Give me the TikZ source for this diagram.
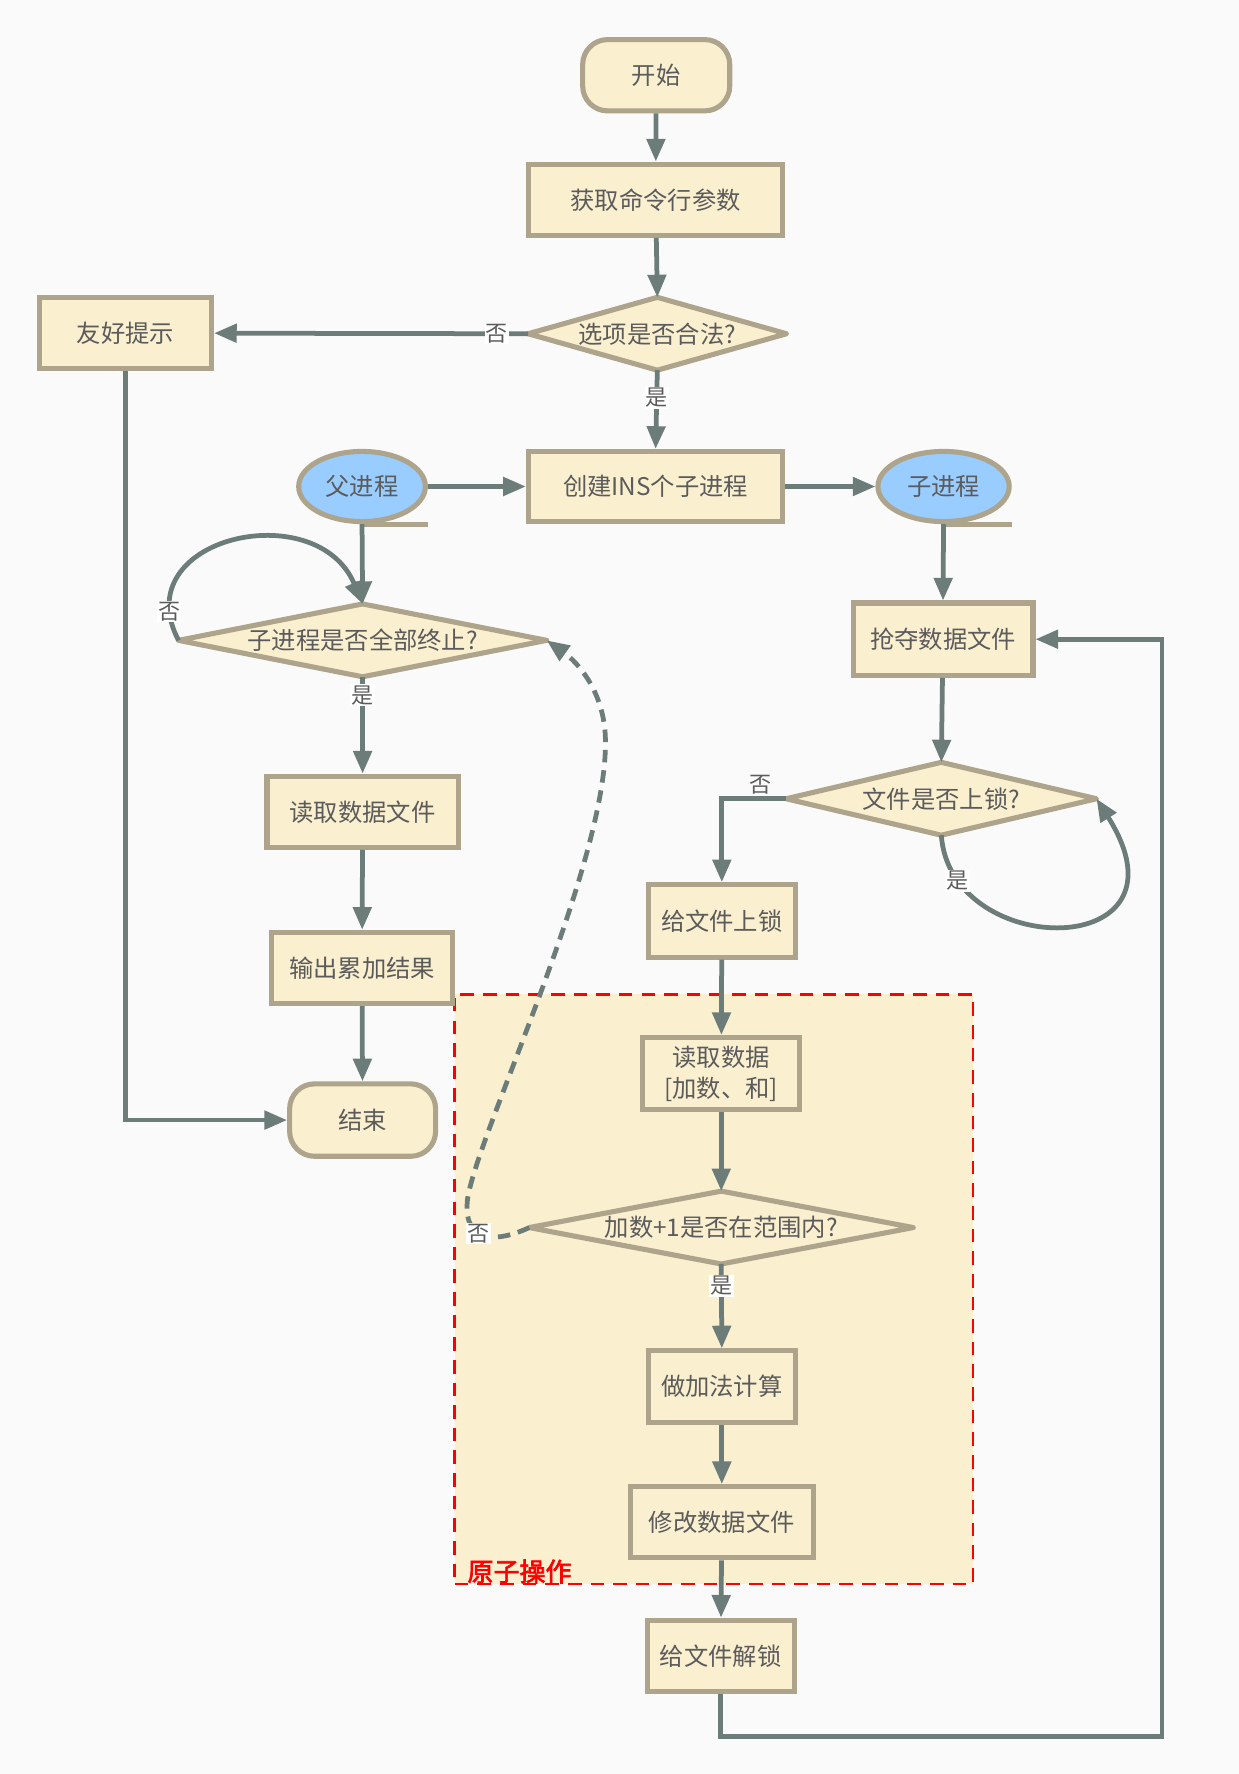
\documentclass[tikz,border=0pt]{standalone}
\usepackage{fontspec}
\setmainfont[AutoFakeBold=2.5]{Noto Sans CJK SC}
\usetikzlibrary{arrows.meta,shapes.geometric}
\definecolor{nodef}{HTML}{FAEFCF}
\definecolor{nodeb}{HTML}{ADA48B}
\definecolor{arr}{HTML}{6B7C79}
\definecolor{txt}{HTML}{5B5B5B}
\definecolor{procblue}{HTML}{99CCFF}
\definecolor{pagebg}{HTML}{FAFAFA}
\definecolor{atomred}{HTML}{FF0000}
\pgfdeclarelayer{page}
\pgfdeclarelayer{back}
\pgfdeclarelayer{mid}
\pgfsetlayers{page,back,mid,main}
\newcommand\drawdia[1]{\begin{pgfonlayer}{mid}\draw[diashape] (#1.north)--(#1.east)--(#1.south)--(#1.west)--cycle;\end{pgfonlayer}}
\begin{document}
\begin{tikzpicture}[x=1pt,y=-1pt,
  box/.style={draw=nodeb, fill=nodef, line width=4.5pt, text=txt, font=\fontsize{21.5}{27}\selectfont, inner sep=0pt, align=center},
  term/.style={box, rounded corners=22pt},
  proc/.style={box, ellipse, fill=procblue},
  dia/.style={rectangle, inner sep=0pt, text=txt, font=\fontsize{21.5}{27}\selectfont},
  diashape/.style={draw=nodeb, fill=nodef, line width=4.5pt, line join=round},
  conn/.style={draw=arr, line width=4.2pt, -{Triangle[length=20pt,width=16pt]}},
  dconn/.style={conn, dash pattern=on 11pt off 7pt},
  lab/.style={fill=white, inner sep=1pt, text=txt, font=\fontsize{19.5}{23}\selectfont},
  atombox/.style={draw=atomred, fill=nodef, line width=2.5pt, dash pattern=on 12pt off 8pt, inner sep=0pt},
  atomlab/.style={text=atomred, font=\fontsize{23}{27}\selectfont\bfseries, inner sep=0pt}
]
\begin{pgfonlayer}{page}
\fill[pagebg] (0,0) rectangle (1095,1568);
\end{pgfonlayer}
\useasboundingbox (0,0) rectangle (1095,1568);

% atomic region
\begin{pgfonlayer}{back}
\node[atombox, minimum width=458pt, minimum height=521pt] (atom) at (631,1139.5) {};
\end{pgfonlayer}
\node[atomlab, anchor=west] (atomlab) at (413,1389) {原子操作};

% nodes
\node[term, minimum width=130pt, minimum height=63pt] (start) at (580,66.5) {开始};
\node[box, minimum width=225pt, minimum height=63pt] (args) at (579.5,176.5) {获取命令行参数};
\node[dia, minimum width=228pt, minimum height=64pt] (d1) at (581,295) {选项是否合法?};
\node[box, minimum width=152pt, minimum height=63pt] (tip) at (111,294.5) {友好提示};
\node[box, minimum width=225pt, minimum height=62pt] (create) at (579.5,430) {创建INS个子进程};
\node[proc, minimum width=112pt, minimum height=62pt] (par) at (320,430) {父进程};
\node[proc, minimum width=116pt, minimum height=62pt] (chi) at (834,430) {子进程};
\node[dia, minimum width=325pt, minimum height=64pt] (d2) at (320.5,566) {子进程是否全部终止?};
\node[box, minimum width=169pt, minimum height=63pt] (readf) at (320.5,717.5) {读取数据文件};
\node[box, minimum width=160pt, minimum height=63pt] (outp) at (320,855.5) {输出累加结果};
\node[term, minimum width=129pt, minimum height=64pt] (stop) at (320.5,990) {结束};
\node[box, minimum width=159pt, minimum height=64pt] (grab) at (833.5,565) {抢夺数据文件};
\node[dia, minimum width=274pt, minimum height=64pt] (d3) at (832,706) {文件是否上锁?};
\node[box, minimum width=130pt, minimum height=64pt] (lock) at (638,814) {给文件上锁};
\node[box, minimum width=139pt, minimum height=64pt] (readd) at (637.5,949) {读取数据\\{}[加数、和]};
\node[dia, minimum width=339pt, minimum height=64pt] (d4) at (637.5,1085) {加数+1是否在范围内?};
\node[box, minimum width=130pt, minimum height=63pt] (add) at (638,1225.5) {做加法计算};
\node[box, minimum width=162pt, minimum height=63pt] (modf) at (638,1345.5) {修改数据文件};
\node[box, minimum width=130pt, minimum height=63pt] (unlock) at (637,1463.5) {给文件解锁};

\drawdia{d1}\drawdia{d2}\drawdia{d3}\drawdia{d4}

% storage tails
\draw[draw=nodeb, line width=4.5pt] (par.south) -- (par.south -| par.east);
\draw[draw=nodeb, line width=4.5pt] (chi.south) -- (chi.south -| chi.east);

% connectors
\draw[conn] (start) -- (args);
\draw[conn] (args) -- (d1.north);
\draw[conn] (d1.west) -- node[lab, pos=0.1] {否} (tip.east);
\draw[conn] (d1.south) -- node[lab, pos=0.35] {是} (create.north);
\draw[conn] (par.east) -- (create.west);
\draw[conn] (create.east) -- (chi.west);
\draw[conn] (par.south) -- (d2.north);
\draw[conn] (d2.west) .. controls (110,475) and (280,437) .. node[lab, pos=0.1] {否} (d2.north);
\draw[conn] (d2.south) -- node[lab, pos=0.19] {是} (readf.north);
\draw[conn] (readf) -- (outp);
\draw[conn] (outp) -- (stop);
\draw[conn] (tip.south) |- (stop.west);
\draw[conn] (chi.south) -- (grab.north);
\draw[conn] (grab) -- (d3.north);
\draw[conn] (d3.west) -| node[lab, pos=0.2, above=1pt, fill=none] {否} (lock.north);
\draw[conn] (d3.south) .. controls (840,850) and (1060,850) .. node[lab, pos=0.14] {是} (d3.east);
\draw[conn] (lock) -- (readd);
\draw[conn] (readd) -- (d4.north);
\draw[conn] (d4.south) -- node[lab, pos=0.26] {是} (add.north);
\draw[conn] (add) -- (modf);
\draw[conn] (modf) -- (unlock);
\coordinate (rc) at (1027,1535);
\draw[conn] (unlock.south) |- (rc) |- (grab.east);
\draw[dconn] (d4.west) .. controls (440,1098) and (410,1100) .. node[lab, pos=0.6] {否} (413,1062)
  .. controls (418,1010) and (540,760) .. (535,650)
  .. controls (533,610) and (510,585) .. (d2.east);
\end{tikzpicture}
\end{document}
